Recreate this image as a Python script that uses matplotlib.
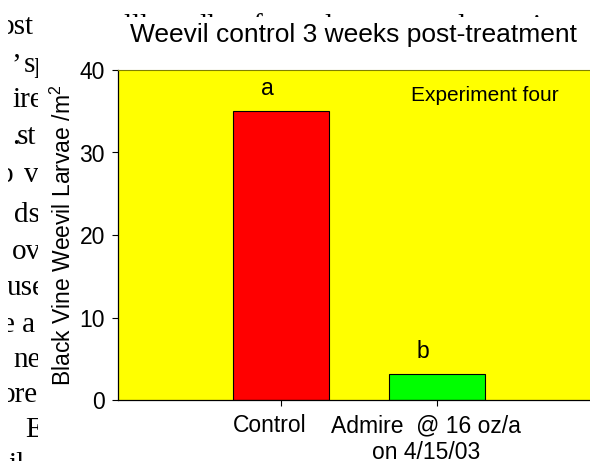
import matplotlib.pyplot as plt
import numpy as np
from matplotlib.patches import Rectangle
from matplotlib.transforms import ScaledTranslation

plt.rcParams['font.family'] = ['Liberation Sans', 'DejaVu Sans']
plt.rcParams['mathtext.fontset'] = 'custom'
plt.rcParams['mathtext.rm'] = 'Liberation Sans'
plt.rcParams['mathtext.default'] = 'regular'

title = 'Weevil control 3 weeks post-treatment'
categories = ['Control', 'Admire  @ 16 oz/a\non 4/15/03']
larvae = [35.0, 3.2]
letters = ['a', 'b']
bar_colors = ['#ff0000', '#00ff00']
yticks = [0, 10, 20, 30, 40]

# bits of the scanned page showing round the chart (x px, baseline px, text)
page_bits = [
    (0, 34, 'ost'), (11, 72, '\u2019'), (24, 72, 'sp'), (12, 107, 'ire'),
    (12, 144, '.'), (17, 144, 'st'), (-1, 182, 'o'), (24, 182, 'v'),
    (14, 222, 'ds'), (12, 259, 'ov'), (7, 295, 'use'), (2, 332, 'e a'),
    (13, 367, 'ne'), (1, 402, 'ore'), (25, 437, 'E'), (8, 472, 'il'),
    (123, 34, 'l'), (131, 34, 'l'), (139, 34, 'l'), (199, 34, 'l'),
    (206, 34, 'l'), (252, 34, 'f'), (324, 34, 'l'), (457, 34, 'l'), (532, 34, 'i'),
]

W, H = 590, 461
fig = plt.figure(figsize=(W / 100, H / 100), dpi=100)


def fx(px):
    return px / W


def fy(py):
    return 1 - py / H


for x, y, s in page_bits:
    fig.text(fx(x), fy(y), s, family='Liberation Serif', fontsize=21,
             ha='left', va='baseline', zorder=-3)

# the chart image sits on top of the page
fig.add_artist(Rectangle((fx(38), 0), 1 - fx(38), fy(17), transform=fig.transFigure,
                         facecolor='white', edgecolor='none', zorder=-1))
fig.add_artist(Rectangle((0, 0), fx(8), 1, transform=fig.transFigure,
                         facecolor='white', edgecolor='none', zorder=-1))

ax = fig.add_axes([fx(118), fy(400), fx(590) - fx(118), fy(70) - fy(400)])
ax.set_facecolor('#ffff00')

x = np.arange(len(categories))
ax.bar(x, larvae, width=0.61, color=bar_colors, edgecolor='black', linewidth=0.8)
for i, (v, l) in enumerate(zip(larvae, letters)):
    ax.text(x[i] - 0.09, v + 2.7, l, ha='center', va='center', fontsize=16.5)

ax.text(0.778, 0.924, 'Experiment four', transform=ax.transAxes,
        ha='center', va='center', fontsize=15)

ax.set_xlim(-1.045, 1.98)
ax.set_ylim(0, 40)
ax.set_yticks(yticks)
ax.set_xticks(x, categories)
ax.tick_params(axis='both', direction='out', length=4.3, width=0.8, labelsize=16.5)
ax.tick_params(axis='y', pad=5)
ax.tick_params(axis='x', pad=6)
for lab in ax.get_xticklabels():
    lab.set_transform(lab.get_transform() + ScaledTranslation(-0.11, 0, fig.dpi_scale_trans))

ax.set_ylabel('Black Vine Weevil Larvae /m$^2$', fontsize=16.5)
ax.yaxis.set_label_coords(-0.089, 0.5)

ax.spines['right'].set_visible(False)
ax.spines['top'].set_color('#808000')
ax.spines['top'].set_linewidth(0.8)
ax.spines['left'].set_linewidth(0.9)
ax.spines['bottom'].set_linewidth(0.9)

fig.text(fx(353), fy(35), title, ha='center', va='center', fontsize=19)

fig.savefig('out.png', dpi=100)
